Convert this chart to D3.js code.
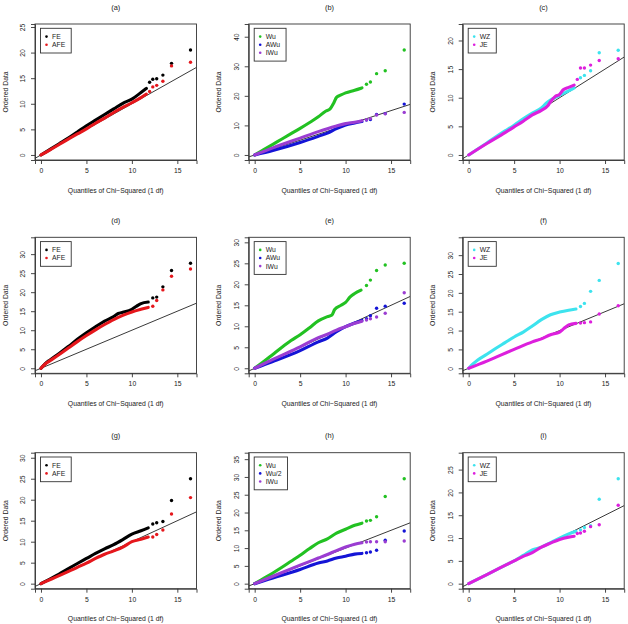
<!DOCTYPE html>
<html><head><meta charset="utf-8">
<script src="https://cdn.jsdelivr.net/npm/d3@7"></script>
<style>body{margin:0;background:#fff}text{font-family:"Liberation Sans",Arial,sans-serif;fill:#222}</style>
</head><body><svg id="c" width="628" height="624"></svg>
<script>
// ---------- data ----------
const titles = ["(a)","(b)","(c)","(d)","(e)","(f)","(g)","(h)","(i)"];
const xTicks = [0,5,10,15];
const xMax = 16.45;
const yMax = [24.6, 42.6, 22, 33.1, 30, 33.4, 30, 35.4, 27.6];
const yTicks = [[0,5,10,15,20,25],[0,10,20,30,40],[0,5,10,15,20],[0,5,10,15,20,25,30],[0,5,10,15,20,25,30],[0,5,10,15,20,25,30],[0,5,10,15,20,25,30],[0,5,10,15,20,25,30,35],[0,5,10,15,20,25]];
const legendLabels = [["FE","AFE"],["Wu","AWu","IWu"],["WZ","JE"],["FE","AFE"],["Wu","AWu","IWu"],["WZ","JE"],["FE","AFE"],["Wu","Wu/2","IWu"],["WZ","JE"]];

// dense part of each QQ curve (x = chi-squared quantile, y = ordered statistic)
const aFE  = [[0,0],[1,1.1],[2,2.2],[3,3.3],[4,4.5],[5,5.7],[6,6.8],[7,7.9],[8,9.0],[9,10.1],[10,10.9],[11,12.2],[11.6,13.0]];
const aAFE = [[0,0],[1,1.0],[2,2.05],[3,3.1],[4,4.1],[5,5.1],[6,6.2],[7,7.2],[8,8.3],[9,9.3],[10,10.2],[11,11.2],[11.6,11.9]];
const bWu  = [[0,0],[1,1.8],[2,3.6],[3,5.4],[4,7.2],[5,9.0],[6,10.9],[7,12.9],[7.8,14.8],[8.3,15.6],[8.7,17.6],[9.0,19.5],[9.5,20.3],[10,21.0],[11,21.9],[11.8,22.7]];
const bAWu = [[0,0],[2,1.5],[5,4.2],[7,6.3],[8,7.4],[9,8.9],[10,10.1],[11,10.8],[11.8,11.3]];
const bIWu = [[0,0],[2,2.4],[5,5.7],[7,7.9],[8,8.9],[9,9.8],[10,10.6],[11,11.1],[11.8,11.6]];
const cWZ  = [[0,0],[2,2.1],[4,4.2],[5,5.2],[6,6.3],[7,7.3],[8,8.2],[8.5,9.0],[9,9.6],[10,10.4],[11,11.2],[11.6,11.7]];
const cJE  = [[0,0],[2,2.0],[4,3.9],[5,4.9],[6,5.9],[7,7.0],[8,7.8],[8.7,8.6],[9,9.3],[9.5,10.2],[10,10.6],[10.4,11.4],[11,11.8],[11.6,12.2]];
const dFE  = [[0,0],[0.5,1.3],[1,2.2],[2,3.9],[3,5.7],[4,7.6],[5,9.3],[6,10.9],[7,12.4],[8,13.6],[8.5,14.4],[9,14.7],[10,15.5],[10.5,16.3],[11,17.0],[11.8,17.4]];
const dAFE = [[0,0],[0.5,1.2],[1,2.0],[2,3.6],[3,5.3],[4,7.0],[5,8.6],[6,10.1],[7,11.5],[8,12.8],[9,13.9],[10,14.8],[11,15.5],[11.8,16.0]];
const eWu  = [[0,0],[1,1.6],[2,3.3],[3,5.0],[4,6.6],[5,8.0],[6,9.6],[7,11.3],[8,12.3],[8.5,12.7],[8.8,14.0],[9.5,15.0],[10,15.7],[10.5,17.0],[11,17.8],[11.7,18.6]];
const eAWu = [[0,0],[2,1.6],[5,4.2],[7,6.3],[8,7.2],[9,8.7],[10,9.9],[11,10.8],[11.8,11.4]];
const eIWu = [[0,0],[2,2.1],[5,5.1],[7,7.3],[8,8.1],[9,9.1],[10,9.9],[11,10.7],[11.8,11.2]];
const fWZ  = [[0,0],[0.5,1.2],[1,2.2],[2,3.7],[3,5.3],[4,6.8],[5,8.3],[6,9.6],[7,11.2],[8,12.9],[9,14.2],[10,14.9],[11,15.4],[11.8,15.7]];
const fJE  = [[0,0],[2,1.9],[5,5.0],[7,7.0],[8,7.8],[9,8.9],[10,9.6],[10.5,10.6],[11,11.5],[11.8,11.9]];
const gFE  = [[0,0],[2,2.3],[4,4.8],[5,6.0],[6,7.2],[7,8.3],[8,9.3],[9,10.5],[10,11.8],[11,12.6],[11.8,13.3]];
const gAFE = [[0,0],[2,1.9],[4,3.9],[5,4.9],[6,6.0],[7,7.0],[8,7.8],[9,8.7],[10,10.0],[11,10.6],[11.8,11.1]];
const hWu  = [[0,0],[1,1.5],[2,3.0],[3,4.6],[4,6.3],[5,8.0],[6,9.8],[7,11.5],[8,12.6],[9,14.2],[10,15.3],[11,16.4],[11.8,17.0]];
const hWu2 = [[0,0],[2,1.6],[5,4.0],[7,5.8],[8,6.4],[9,7.2],[10,7.7],[11,8.3],[11.8,8.5]];
const hIWu = [[0,0],[2,2.1],[5,5.2],[7,7.2],[8,8.2],[9,9.3],[10,10.3],[11,11.1],[11.8,11.5]];
const iWZ  = [[0,0],[2,2.0],[4,4.0],[5,5.0],[6,6.2],[7,7.4],[8,8.0],[9,9.0],[10,10.0],[11,10.9],[11.8,11.5]];
const iJE  = [[0,0],[2,2.0],[4,4.0],[5,5.0],[6,6.0],[7,6.8],[8,8.0],[9,8.9],[10,9.7],[11,10.2],[11.6,10.4]];

// separated upper-tail points
const aFEpts  = [[11.95,14.2],[12.3,14.8],[12.73,14.9],[13.41,15.6],[14.36,17.9],[16.45,20.5]];
const aAFEpts = [[11.95,12.4],[12.3,13.3],[12.73,13.6],[13.41,14.4],[14.36,17.4],[16.45,18.1]];
const bWupts  = [[12.3,23.9],[12.73,24.7],[13.41,27.5],[14.36,28.5],[16.45,35.5]];
const bAWupts = [[12.3,11.8],[12.73,12.0],[13.41,13.7],[14.36,14.0],[16.45,17.2]];
const bIWupts = [[12.3,11.9],[12.73,12.3],[13.41,13.5],[14.36,13.9],[16.45,14.4]];
const cWZpts  = [[12.3,13.5],[12.73,13.9],[13.41,14.7],[14.36,17.85],[16.45,18.3]];
const cJEpts  = [[11.95,13.2],[12.3,15.2],[12.73,15.2],[13.41,15.7],[14.36,16.5],[16.45,16.8]];
const dFEpts  = [[12.3,18.5],[12.73,18.7],[13.41,21.4],[14.36,25.7],[16.45,27.6]];
const dAFEpts = [[12.3,16.3],[12.73,17.8],[13.41,20.6],[14.36,24.2],[16.45,26.1]];
const eWupts  = [[12.3,19.7],[12.73,21.0],[13.41,23.3],[14.36,24.6],[16.45,25.0]];
const eAWupts = [[12.3,11.8],[12.73,12.5],[13.41,14.3],[14.36,14.8],[16.45,15.5]];
const eIWupts = [[12.3,11.5],[12.73,11.8],[13.41,12.2],[14.36,13.1],[16.45,18.0]];
const fWZpts  = [[12.3,16.4],[12.73,17.2],[13.41,20.4],[14.36,23.3],[16.45,27.8]];
const fJEpts  = [[12.3,12.0],[12.73,12.1],[13.41,12.3],[14.36,14.4],[16.45,16.6]];
const gFEpts  = [[12.3,14.2],[12.73,14.5],[13.41,14.8],[14.36,19.8],[16.45,25.0]];
const gAFEpts = [[12.3,11.1],[12.73,11.7],[13.41,12.8],[14.36,16.6],[16.45,20.5]];
const hWupts  = [[12.3,17.6],[12.73,17.8],[13.41,18.8],[14.36,24.5],[16.45,29.5]];
const hWu2pts = [[12.3,8.7],[12.73,8.9],[13.41,9.4],[14.36,12.2],[16.45,14.8]];
const hIWupts = [[12.3,11.7],[12.73,11.8],[13.41,11.8],[14.36,11.8],[16.45,12.0]];
const iWZpts  = [[12.3,11.8],[12.73,12.3],[13.41,12.7],[14.36,18.5],[16.45,23.0]];
const iJEpts  = [[11.95,11.0],[12.3,11.1],[12.73,11.5],[13.41,12.5],[14.36,12.9],[16.45,17.2]];

// ---------- styles ----------
const colorOf = {FE:"#000000", AFE:"#e5171c", Wu:"#22c122", AWu:"#1414d6", "Wu/2":"#1414d6", IWu:"#9b3dd2", WZ:"#3de3ee", JE:"#dd1fdd"};
const panels = [
  [[aFE,aFEpts],[aAFE,aAFEpts]],
  [[bWu,bWupts],[bAWu,bAWupts],[bIWu,bIWupts]],
  [[cWZ,cWZpts],[cJE,cJEpts]],
  [[dFE,dFEpts],[dAFE,dAFEpts]],
  [[eWu,eWupts],[eAWu,eAWupts],[eIWu,eIWupts]],
  [[fWZ,fWZpts],[fJE,fJEpts]],
  [[gFE,gFEpts],[gAFE,gAFEpts]],
  [[hWu,hWupts],[hWu2,hWu2pts],[hIWu,hIWupts]],
  [[iWZ,iWZpts],[iJE,iJEpts]]
];

const colLeft = [35, 248.7, 462.7], rowTop = [24, 237.3, 452.7];
const W = 161.5, H = 136;
const svg = d3.select("#c");
const FS = 6.8;

panels.forEach((series, p) => {
  const col = p % 3, row = Math.floor(p / 3);
  const L = colLeft[col], T = rowTop[row];
  const xpad = xMax * 0.04, ypad = yMax[p] * 0.04;
  const x = d3.scaleLinear().domain([-xpad, xMax + xpad]).range([L, L + W]);
  const y = d3.scaleLinear().domain([-ypad, yMax[p] + ypad]).range([T + H, T]);
  const g = svg.append("g");
  const cid = "clip" + p;
  g.append("clipPath").attr("id", cid).append("rect").attr("x", L).attr("y", T).attr("width", W).attr("height", H);
  const plot = g.append("g").attr("clip-path", `url(#${cid})`);

  // reference line y = x
  plot.append("line")
    .attr("x1", x(-xpad)).attr("y1", y(-xpad))
    .attr("x2", x(xMax + xpad)).attr("y2", y(xMax + xpad))
    .attr("stroke", "#222").attr("stroke-width", 0.9);

  const line = d3.line().x(d => x(d[0])).y(d => y(d[1])).curve(d3.curveMonotoneX);
  series.forEach((s, k) => {
    const c = colorOf[legendLabels[p][k]];
    plot.append("path").datum(s[0]).attr("d", line)
      .attr("fill", "none").attr("stroke", c).attr("stroke-width", 3.1)
      .attr("stroke-linecap", "round").attr("stroke-linejoin", "round");
    plot.selectAll(null).data(s[1]).enter().append("circle")
      .attr("cx", d => x(d[0])).attr("cy", d => y(d[1])).attr("r", 1.7).attr("fill", c);
  });

  // box
  g.append("rect").attr("x", L).attr("y", T).attr("width", W).attr("height", H)
    .attr("fill", "none").attr("stroke", "#333").attr("stroke-width", 0.9);

  // x axis
  const xa = g.append("g").attr("transform", `translate(0,${T + H})`)
    .call(d3.axisBottom(x).tickValues(xTicks).tickSize(4).tickPadding(4).tickFormat(d3.format("d")));
  xa.select(".domain").attr("stroke", "#333").attr("stroke-width", 0.9);
  xa.selectAll(".tick line").attr("stroke", "#333").attr("stroke-width", 0.9);
  xa.selectAll("text").attr("font-size", FS).attr("fill", "#222").attr("font-family", null);

  // y axis
  const ya = g.append("g").attr("transform", `translate(${L},0)`)
    .call(d3.axisLeft(y).tickValues(yTicks[p]).tickSize(4).tickFormat(d3.format("d")));
  ya.select(".domain").attr("stroke", "#333").attr("stroke-width", 0.9);
  ya.selectAll(".tick line").attr("stroke", "#333").attr("stroke-width", 0.9);
  ya.selectAll(".tick text").attr("font-size", FS).attr("fill", "#222").attr("font-family", null)
    .attr("x", -12.5).attr("dy", null).attr("text-anchor", "middle")
    .attr("dominant-baseline", "central")
    .attr("transform", "rotate(-90,-12.5,0)");

  // titles / labels
  g.append("text").attr("x", L + W / 2).attr("y", T - 14.5).attr("text-anchor", "middle")
    .attr("font-size", FS + 0.6).text(titles[p]);
  g.append("text").attr("x", L + W / 2).attr("y", T + H + 32.5).attr("text-anchor", "middle")
    .attr("font-size", FS).text("Quantiles of Chi\u2212Squared (1 df)");
  g.append("text").attr("transform", `translate(${L - 27.5},${T + H / 2}) rotate(-90)`)
    .attr("text-anchor", "middle").attr("font-size", FS).text("Ordered Data");

  // legend
  const labs = legendLabels[p];
  const lg = g.append("g").attr("transform", `translate(${L + 5.5},${T + 4.3})`);
  const box = lg.append("rect").attr("fill", "#fff").attr("stroke", "#333").attr("stroke-width", 0.9);
  let maxW = 0;
  labs.forEach((lab, k) => {
    const cy = 8.3 + k * 8.1;
    lg.append("circle").attr("cx", 6).attr("cy", cy).attr("r", 1.3).attr("fill", colorOf[lab]);
    const t = lg.append("text").attr("x", 11.5).attr("y", cy).attr("dominant-baseline", "central")
      .attr("font-size", FS).text(lab);
    maxW = Math.max(maxW, t.node().getComputedTextLength());
  });
  box.attr("width", 11.5 + maxW + 6).attr("height", 8.3 + (labs.length - 1) * 8.1 + 8.3);
});
</script></body></html>
